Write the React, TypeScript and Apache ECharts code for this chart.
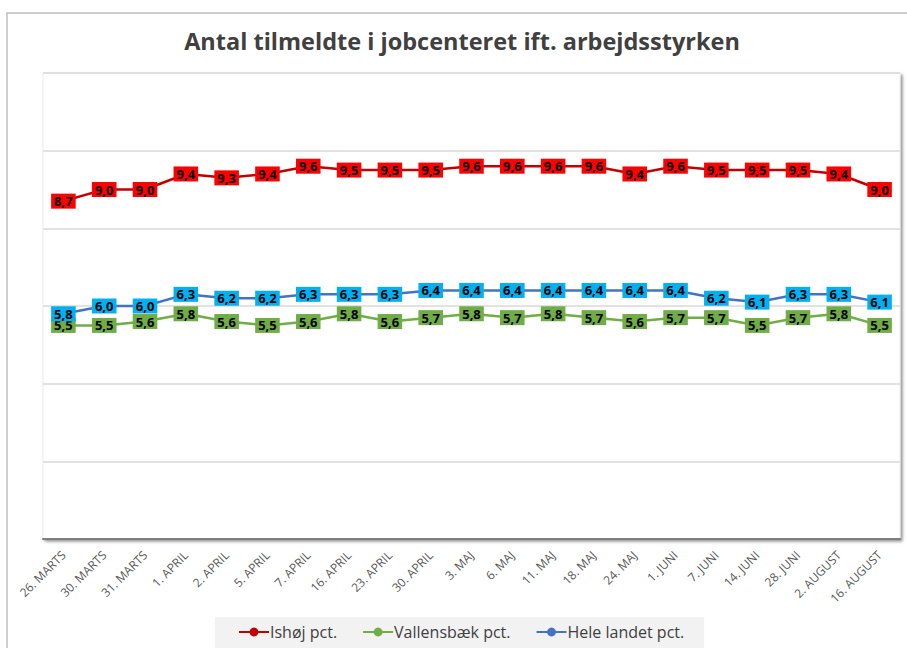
import React, { useEffect, useRef } from "react";
import * as echarts from "echarts";

const categories = [
  "26. MARTS", "30. MARTS", "31. MARTS", "1. APRIL", "2. APRIL", "5. APRIL", "7. APRIL",
  "16. APRIL", "23. APRIL", "30. APRIL", "3. MAJ", "6. MAJ", "11. MAJ", "18. MAJ",
  "24. MAJ", "1. JUNI", "7. JUNI", "14. JUNI", "28. JUNI", "2. AUGUST", "16. AUGUST",
];

const ishoj = [8.7, 9.0, 9.0, 9.4, 9.3, 9.4, 9.6, 9.5, 9.5, 9.5, 9.6, 9.6, 9.6, 9.6, 9.4, 9.6, 9.5, 9.5, 9.5, 9.4, 9.0];
const vallensbaek = [5.5, 5.5, 5.6, 5.8, 5.6, 5.5, 5.6, 5.8, 5.6, 5.7, 5.8, 5.7, 5.8, 5.7, 5.6, 5.7, 5.7, 5.5, 5.7, 5.8, 5.5];
const heleLandet = [5.8, 6.0, 6.0, 6.3, 6.2, 6.2, 6.3, 6.3, 6.3, 6.4, 6.4, 6.4, 6.4, 6.4, 6.4, 6.4, 6.2, 6.1, 6.3, 6.3, 6.1];

const seriesNames = ["Ishøj pct.", "Vallensbæk pct.", "Hele landet pct."];
const lineColors = ["#C00000", "#70AD47", "#4472C4"];
const labelBg = ["#FF0000", "#70AD47", "#00B0F0"];

const TITLE = "Antal tilmeldte i jobcenteret ift. arbejdsstyrken";
const FONT = "'Open Sans', 'Noto Sans', sans-serif";

export default function App() {
  const ref = useRef<HTMLDivElement>(null);

  useEffect(() => {
    document.body.style.margin = "0";
    if (!ref.current) return;
    const chart = echarts.init(ref.current, null, { renderer: "svg" });

    const mkSeries = (i: number, data: number[]) => ({
      name: seriesNames[i],
      type: "line",
      data,
      symbol: "circle",
      symbolSize: 8,
      z: 3 + i,
      itemStyle: { color: lineColors[i] },
      lineStyle: { color: lineColors[i], width: 2.5 },
      label: {
        show: true,
        position: "inside",
        formatter: (p: any) => Number(p.value).toFixed(1).replace(".", ","),
        backgroundColor: labelBg[i],
        color: "#000000",
        fontFamily: FONT,
        fontWeight: "bold",
        fontSize: 13,
        lineHeight: 12,
        padding: [2, 3, 1, 3],
      },
    });

    chart.setOption({
      animation: false,
      backgroundColor: "#ffffff",
      textStyle: { fontFamily: FONT },
      graphic: [
        {
          type: "rect",
          z: -10,
          silent: true,
          shape: { x: 7, y: 13, width: 940, height: 700 },
          style: { fill: "#ffffff", stroke: "#bfbfbf", lineWidth: 1.5 },
        },
        {
          type: "rect",
          z: -5,
          silent: true,
          shape: { x: 43, y: 73, width: 857, height: 466 },
          style: {
            fill: "#ffffff",
            stroke: "#ececec",
            lineWidth: 1,
            shadowBlur: 3,
            shadowOffsetX: 2,
            shadowOffsetY: 2,
            shadowColor: "rgba(0,0,0,0.45)",
          },
        },
        {
          type: "text",
          silent: true,
          x: 462,
          y: 29,
          style: {
            text: TITLE,
            align: "center",
            verticalAlign: "top",
            fontFamily: FONT,
            fontSize: 23.5,
            fontWeight: "bold",
            fill: "#404040",
          },
        },
      ],
      legend: {
        data: seriesNames,
        left: 215,
        top: 617,
        width: 493,
        padding: [7, 20, 8, 23],
        backgroundColor: "#f2f2f2",
        itemGap: 25,
        itemWidth: 30,
        itemHeight: 11,
        textStyle: { fontFamily: FONT, fontSize: 16, color: "#404040", padding: [0, 0, 0, -4] },
      },
      grid: { left: 43, right: 7, top: 73, bottom: 109, containLabel: false },
      xAxis: {
        type: "category",
        data: categories,
        boundaryGap: true,
        axisTick: { show: false },
        axisLine: { lineStyle: { color: "#7f7f7f", width: 2 } },
        axisLabel: {
          rotate: 45,
          interval: 0,
          fontSize: 12,
          color: "#595959",
          fontFamily: FONT,
          margin: 14,
        },
      },
      yAxis: {
        type: "value",
        min: 0,
        max: 12,
        interval: 2,
        axisLine: { show: false },
        axisTick: { show: false },
        axisLabel: { show: false },
        splitLine: { lineStyle: { color: "#d9d9d9", width: 1.5 } },
      },
      series: [mkSeries(0, ishoj), mkSeries(1, vallensbaek), mkSeries(2, heleLandet)],
    });

    return () => chart.dispose();
  }, []);

  return <div ref={ref} style={{ width: 907, height: 648 }} />;
}
